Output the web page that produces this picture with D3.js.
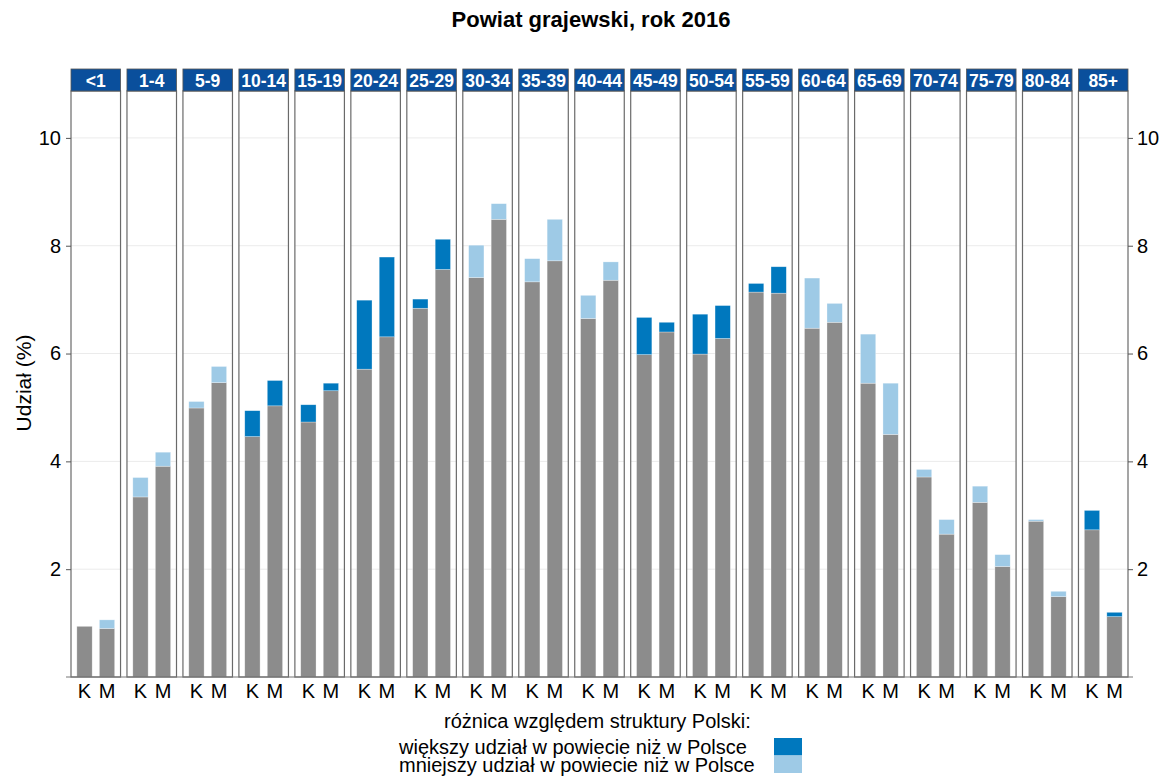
<!DOCTYPE html>
<html>
<head>
<meta charset="utf-8">
<script src="https://cdn.jsdelivr.net/npm/d3@7"></script>
<style>
  body { margin: 0; background: #fff; }
  text { font-family: "Liberation Sans", Arial, sans-serif; }
</style>
</head>
<body>
<svg width="1175" height="778"></svg>
<script>
// age groups (facets)
var groups = ['<1', '1-4', '5-9', '10-14', '15-19', '20-24', '25-29', '30-34', '35-39', '40-44',
    '45-49', '50-54', '55-59', '60-64', '65-69', '70-74', '75-79', '80-84', '85+'];
var sexes = ['K', 'M'];

// share of age group in powiat (%)
var powiatK = [0.94, 3.34, 4.99, 4.94, 5.05, 6.99, 7.01, 7.41, 7.33, 6.65, 6.67, 6.73, 7.30, 6.47, 5.45, 3.71, 3.24, 2.89, 3.09];
var powiatM = [0.90, 3.91, 5.46, 5.50, 5.45, 7.79, 8.12, 8.49, 7.72, 7.36, 6.58, 6.89, 7.61, 6.58, 4.50, 2.65, 2.05, 1.49, 1.20];
// share of age group in Poland (%)
var polskaK = [0.94, 3.70, 5.11, 4.46, 4.73, 5.71, 6.84, 8.01, 7.76, 7.08, 5.98, 5.99, 7.14, 7.40, 6.36, 3.85, 3.54, 2.92, 2.73];
var polskaM = [1.06, 4.17, 5.76, 5.03, 5.31, 6.31, 7.56, 8.78, 8.49, 7.70, 6.40, 6.28, 7.12, 6.93, 5.45, 2.92, 2.27, 1.59, 1.12];

var yTicks = [2, 4, 6, 8, 10];
var legendLabels = ['większy udział w powiecie niż w Polsce', 'mniejszy udział w powiecie niż w Polsce'];

var colGray = '#8c8c8c', colMore = '#0078be', colLess = '#9ecae6', colStrip = '#0a4f9c';

var data = [];
groups.forEach(function (g, i) {
    data.push({ group: g, sex: 'K', powiat: powiatK[i], polska: polskaK[i] });
    data.push({ group: g, sex: 'M', powiat: powiatM[i], polska: polskaM[i] });
});

var svg = d3.select('svg');
var pTop = 91, pBottom = 677, pLeft = 71, pRight = 1128;

var x = d3.scaleBand().domain(groups).range([pLeft, pRight]).paddingInner(0.115).paddingOuter(0);
var xs = d3.scalePoint().domain(sexes).range([0, x.bandwidth()]).padding(0.6);
var barW = xs.step() * 0.68;
var y = d3.scaleLinear().domain([0, 10.87]).range([pBottom, pTop]);

// title
svg.append('text')
    .attr('x', 591).attr('y', 27)
    .attr('text-anchor', 'middle')
    .attr('font-size', 22).attr('font-weight', 'bold')
    .text('Powiat grajewski, rok 2016');

var panels = svg.selectAll('g.panel')
    .data(groups)
    .enter().append('g')
    .attr('class', 'panel')
    .attr('transform', function (d) { return 'translate(' + x(d) + ',0)'; });

// grid
panels.selectAll('line.grid')
    .data(yTicks)
    .enter().append('line')
    .attr('x1', 0).attr('x2', x.bandwidth())
    .attr('y1', function (d) { return y(d); })
    .attr('y2', function (d) { return y(d); })
    .attr('stroke', '#ebebeb').attr('stroke-width', 1);

// bars
panels.each(function (g) {
    var rows = data.filter(function (d) { return d.group === g; });
    var p = d3.select(this);
    p.selectAll('rect.base')
        .data(rows)
        .enter().append('rect')
        .attr('x', function (d) { return xs(d.sex) - barW / 2; })
        .attr('width', barW)
        .attr('y', function (d) { return y(Math.min(d.powiat, d.polska)); })
        .attr('height', function (d) { return y(0) - y(Math.min(d.powiat, d.polska)); })
        .attr('fill', colGray)
        .attr('stroke', '#fff').attr('stroke-opacity', 0.5).attr('stroke-width', 0.6);
    p.selectAll('rect.diff')
        .data(rows)
        .enter().append('rect')
        .attr('x', function (d) { return xs(d.sex) - barW / 2; })
        .attr('width', barW)
        .attr('y', function (d) { return y(Math.max(d.powiat, d.polska)); })
        .attr('height', function (d) { return Math.abs(y(d.powiat) - y(d.polska)); })
        .attr('fill', function (d) { return d.powiat > d.polska ? colMore : colLess; })
        .attr('stroke', '#fff').attr('stroke-opacity', 0.5).attr('stroke-width', 0.6);

    p.selectAll('text.sex')
        .data(sexes)
        .enter().append('text')
        .attr('x', function (d) { return xs(d); })
        .attr('y', 698)
        .attr('text-anchor', 'middle')
        .attr('font-size', 20)
        .text(function (d) { return d; });
});

// panel borders and strips
panels.append('rect')
    .attr('x', 0).attr('y', pTop)
    .attr('width', x.bandwidth()).attr('height', pBottom - pTop)
    .attr('fill', 'none').attr('stroke', '#6a6a6a').attr('stroke-width', 1.2);
panels.append('rect')
    .attr('x', 0).attr('y', 69)
    .attr('width', x.bandwidth()).attr('height', pTop - 69)
    .attr('fill', colStrip).attr('stroke', '#555').attr('stroke-width', 0.8);
panels.append('text')
    .attr('x', x.bandwidth() / 2).attr('y', 86.5)
    .attr('text-anchor', 'middle')
    .attr('font-size', 17.5).attr('font-weight', 'bold')
    .attr('fill', '#fff')
    .text(function (d) { return d; });

// axes
var axisL = svg.append('g').attr('transform', 'translate(' + pLeft + ',0)')
    .call(d3.axisLeft(y).tickValues(yTicks).tickSize(5).tickPadding(5));
var axisR = svg.append('g').attr('transform', 'translate(' + pRight + ',0)')
    .call(d3.axisRight(y).tickValues(yTicks).tickSize(5).tickPadding(4));
[axisL, axisR].forEach(function (a) {
    a.select('.domain').remove();
    a.selectAll('line').attr('stroke', '#555');
    a.selectAll('text').attr('font-size', 20).attr('fill', '#000')
        .style('font-family', '"Liberation Sans", Arial, sans-serif');
});
svg.append('line')
    .attr('x1', pLeft - 5).attr('x2', pRight + 5)
    .attr('y1', pBottom).attr('y2', pBottom)
    .attr('stroke', '#777').attr('stroke-width', 1);

// y label
svg.append('text')
    .attr('transform', 'translate(31,383) rotate(-90)')
    .attr('text-anchor', 'middle')
    .attr('font-size', 21)
    .text('Udział (%)');

// legend
var legend = svg.append('g');
legend.append('text')
    .attr('x', 444).attr('y', 728)
    .attr('font-size', 20)
    .text('różnica względem struktury Polski:');
legend.selectAll('text.lab')
    .data(legendLabels)
    .enter().append('text')
    .attr('x', 399)
    .attr('y', function (d, i) { return 754 + i * 18; })
    .attr('font-size', 20)
    .text(function (d) { return d; });
legend.selectAll('rect')
    .data([colMore, colLess])
    .enter().append('rect')
    .attr('x', 774)
    .attr('y', function (d, i) { return 738 + i * 17.5; })
    .attr('width', 28).attr('height', 17.5)
    .attr('fill', function (d) { return d; });
</script>
</body>
</html>
